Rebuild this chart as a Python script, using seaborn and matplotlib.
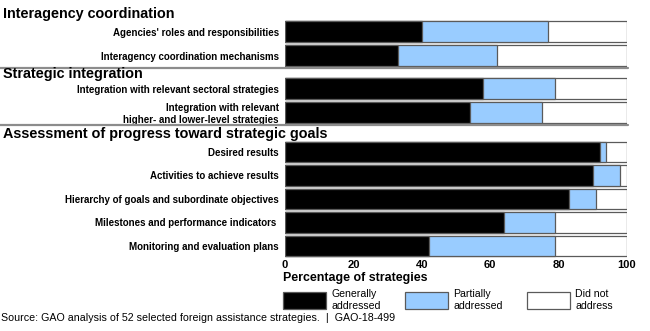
import matplotlib
matplotlib.use("Agg")
import matplotlib.pyplot as plt
from matplotlib.patches import Patch
import seaborn as sns
import numpy as np

# ---- data ----
groups = ["Interagency coordination", "Strategic integration",
          "Assessment of progress toward strategic goals"]
group_items = [
    ["Agencies' roles and responsibilities",
     "Interagency coordination mechanisms"],
    ["Integration with relevant sectoral strategies",
     "Integration with relevant\nhigher- and lower-level strategies"],
    ["Desired results",
     "Activities to achieve results",
     "Hierarchy of goals and subordinate objectives",
     "Milestones and performance indicators ",
     "Monitoring and evaluation plans"],
]
generally = [40, 33, 58, 54, 92, 90, 83, 64, 42]
partially = [37, 29, 21, 21, 2, 8, 8, 15, 37]
did_not = [23, 38, 21, 25, 6, 2, 9, 21, 21]
x_ticks = [0, 20, 40, 60, 80, 100]
series_labels = ["Generally\naddressed", "Partially\naddressed", "Did not\naddress"]
xlabel = "Percentage of strategies"
source = "Source: GAO analysis of 52 selected foreign assistance strategies.  |  GAO-18-499"

# ---- style ----
sns.set_style("white")
plt.rcParams["font.family"] = ["Liberation Sans", "DejaVu Sans"]
for k in ["text.color", "xtick.color", "ytick.color", "axes.labelcolor"]:
    plt.rcParams[k] = "black"
NARROW = ["Liberation Sans Narrow", "Liberation Sans", "DejaVu Sans"]
BLACK, BLUE, WHITE = "#000000", "#99CCFF", "#FFFFFF"
EDGE = "#5a5a5a"
colors = [BLACK, BLUE, WHITE]

W, H = 650, 331
fig = plt.figure(figsize=(W / 100, H / 100), dpi=100)


def fx(px):
    return px / W


def fy(py):
    return 1 - py / H


# axes extents in pixels (top, bottom)
ax_spans = [(19.7, 67.8), (76.6, 124.2), (140.2, 257.7)]
header_base = [18.3, 78.3, 137.7]
sep_lines = [67.9, 125.2]
x0, x1 = 285, 627

start = 0
axes = []
for gi, (items, (top, bot)) in enumerate(zip(group_items, ax_spans)):
    n = len(items)
    g = np.array(generally[start:start + n])
    p = np.array(partially[start:start + n])
    d = np.array(did_not[start:start + n])
    start += n
    ax = fig.add_axes([fx(x0), fy(bot), fx(x1 - x0), (bot - top) / H])
    cum_total = g + p + d
    cum_gp = g + p
    for vals, col in [(cum_total, WHITE), (cum_gp, BLUE), (g, BLACK)]:
        sns.barplot(x=list(vals), y=items, orient="h", color=col,
                    width=0.86, edgecolor=EDGE, linewidth=0.9,
                    saturation=1, ax=ax)
    ax.set_xlim(0, 100)
    ax.set_ylim(n - 0.5, -0.5)
    for s in ax.spines.values():
        s.set_visible(False)
    ax.set_xlabel("")
    ax.set_ylabel("")
    ax.tick_params(axis="y", length=0, pad=4.5, labelcolor="black")
    for lab in ax.get_yticklabels():
        lab.set_fontfamily(NARROW)
        lab.set_fontweight("bold")
        lab.set_fontsize(7.0)
        lab.set_linespacing(1.25)
    ax.set_xticks(x_ticks)
    if gi == len(group_items) - 1:
        ax.tick_params(axis="x", length=0, pad=2, labelsize=8,
                       labelcolor="black")
        for lab in ax.get_xticklabels():
            lab.set_fontweight("bold")
            lab.set_fontfamily(NARROW)
    else:
        ax.tick_params(axis="x", length=0, labelbottom=False)
    axes.append(ax)

# group headers
for name, yb in zip(groups, header_base):
    fig.text(fx(3), fy(yb), name, fontsize=10.4, fontweight="bold",
             va="baseline", ha="left", color="black")

# separator lines
for yl in sep_lines:
    fig.add_artist(plt.Line2D([0, fx(x1 + 1)], [fy(yl), fy(yl)],
                              color="#8c8c8c", linewidth=1.6))

# x label
fig.text(fx(283), fy(281.5), xlabel, fontsize=8.9, fontweight="bold",
         va="baseline", ha="left", color="black")

# legend
handles = [Patch(facecolor=c, edgecolor=EDGE, linewidth=0.9) for c in colors]
fig.legend(handles, series_labels, loc="upper left",
           bbox_to_anchor=(fx(282.5), fy(289)), ncol=3, frameon=False,
           fontsize=7.6, handlelength=4.1, handleheight=2.1,
           handletextpad=0.5, columnspacing=2.3, borderpad=0,
           borderaxespad=0, labelspacing=0, labelcolor="black")

# source
fig.text(fx(1), fy(320.7), source, fontsize=7.7, va="baseline", ha="left",
         color="black")

fig.savefig("out.png", dpi=100)
